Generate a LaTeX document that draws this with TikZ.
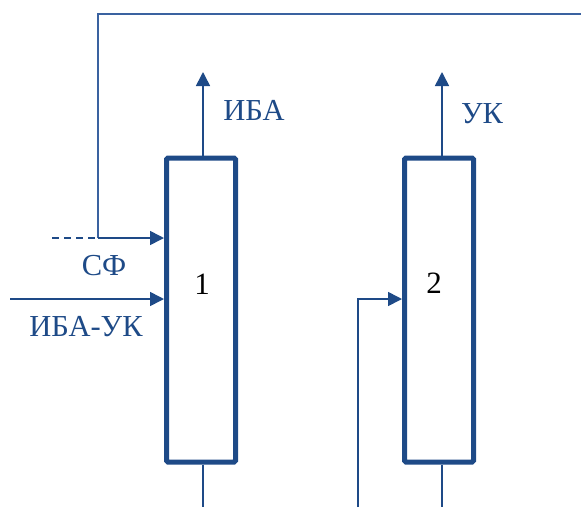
\documentclass[tikz,border=0pt]{standalone}
\usepackage{fontspec}
\setmainfont{Liberation Serif}
\usetikzlibrary{arrows.meta}
\definecolor{dblue}{HTML}{1E4A87}
\definecolor{lblue}{HTML}{3A62A0}
\begin{document}
\begin{tikzpicture}[x=1pt,y=-1pt,
  column/.style={draw=dblue,line width=5pt,rounded corners=1.5pt,minimum width=69pt,minimum height=304pt,inner sep=0pt},
  num/.style={inner sep=0pt,font=\fontsize{31}{34}\selectfont},
  flow/.style={draw=dblue,line width=1.6pt},
  feed/.style={flow,-{Triangle[length=14pt,width=14pt]}},
  lab/.style={text=dblue,font=\fontsize{30.5}{34}\selectfont,inner sep=0pt}]
\useasboundingbox (0,0) rectangle (581,507);
\node[column] (box1) at (201,310) {};
\node[column] (box2) at (439,310) {};
\node[num] (n1) at (202,284) {1};
\node[num] (n2) at (434,283) {2};
% recycle line
\coordinate (tr) at (581,14);
\coordinate (tl) at (98,14);
\coordinate (sfj) at (98,238);
\coordinate (sfd) at (52,238);
\draw[draw=lblue,line width=1.6pt] (tr) -- (tl) -- (sfj);
\draw[flow,dashed,dash pattern=on 7pt off 5pt] (sfd) -- (sfj);
\draw[feed] (sfj) -- (box1.west |- sfj);
% IBA-UK feed
\coordinate (fi) at (10,299);
\draw[feed] (fi) -- (box1.west |- fi);
% outputs top
\coordinate (o1) at (203,72);
\coordinate (o2) at (442,72);
\draw[feed] (box1.north -| o1) -- (o1);
\draw[feed] (box2.north -| o2) -- (o2);
% bottom
\coordinate (b1) at (203,507);
\coordinate (b2) at (442,507);
\coordinate (bi) at (358,507);
\coordinate (bk) at (358,299);
\draw[flow] (box1.south -| b1) -- (b1);
\draw[flow] (box2.south -| b2) -- (b2);
\draw[feed] (bi) -- (bk) -- (box2.west |- bk);
% labels
\node[lab] (lsf) at (104,266) {СФ};
\node[lab] (libauk) at (86,327) {ИБА-УК};
\node[lab] (liba) at (254,110) {ИБА};
\node[lab] (luk) at (482,114) {УК};
\end{tikzpicture}
\end{document}
